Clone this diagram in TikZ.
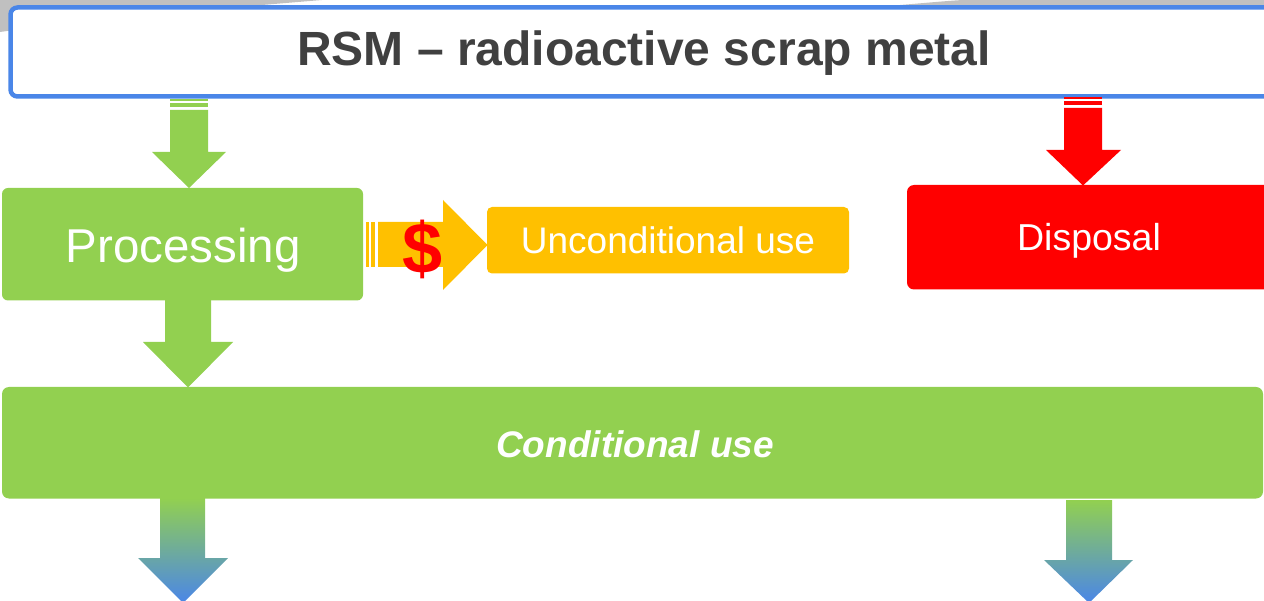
\documentclass[tikz,border=0pt]{standalone}
\usepackage{fontspec}
\setmainfont{Liberation Sans}
\definecolor{cgreen}{RGB}{146,208,80}
\definecolor{corange}{RGB}{255,192,0}
\definecolor{cred}{RGB}{255,0,0}
\definecolor{cblue}{RGB}{74,134,232}
\definecolor{cgray}{RGB}{192,192,192}
\definecolor{ctext}{RGB}{64,64,64}
\begin{document}
\begin{tikzpicture}[x=1pt,y=-1pt,
  box/.style={rectangle, rounded corners=6pt, inner sep=0pt, draw=none},
  lbl/.style={anchor=base, text=white, inner sep=0pt}]
\useasboundingbox (0,0) rectangle (1264,601);
\begin{scope}
\clip (0,0) rectangle (1264,601);
% slide background remnants
\fill[cgray] (0,0) -- (322,0) .. controls (200,10) and (70,22) .. (0,32) -- cycle;
\fill[cgray] (900,5) .. controls (925,3) and (945,1) .. (963,0) -- (1264,0) -- (1264,6) -- cycle;

% title
\node[box, draw=cblue, line width=4.5pt, rounded corners=7pt, fill=white,
      minimum width=1279.5pt, minimum height=89pt] (title) at (650.25,52) {};
\node[anchor=base, text=ctext, inner sep=0pt,
      font=\fontsize{48}{57}\selectfont\bfseries] (titletext) at (644,66) {RSM – radioactive scrap metal};

% boxes
\node[box, fill=cgreen, minimum width=361pt, minimum height=112.5pt] (proc) at (182.5,244.25) {};
\node[lbl, font=\fontsize{47.5}{57}\selectfont] (proctext) at (183,263) {Processing};

\node[box, fill=corange, rounded corners=5pt, minimum width=362pt, minimum height=66.5pt] (uncond) at (668,240.25) {};
\node[lbl, font=\fontsize{37}{44}\selectfont] (uncondtext) at (668,254) {Unconditional use};

\node[box, fill=cred, rounded corners=7pt, minimum width=383pt, minimum height=104.5pt] (disp) at (1098.5,237.25) {};
\node[lbl, font=\fontsize{37.5}{45}\selectfont] (disptext) at (1089,251) {Disposal};

\node[box, fill=cgreen, rounded corners=7pt, minimum width=1261pt, minimum height=111.5pt] (cond) at (632.5,442.75) {};
\node[lbl, font=\fontsize{37}{44}\selectfont\bfseries\itshape] (condtext) at (635,457) {Conditional use};

% arrow title -> processing
\fill[cgreen] (170,99) rectangle (208,101.5);
\fill[cgreen] (170,103.5) rectangle (208,107.5);
\fill[cgreen] (170,110) -- (208,110) -- (208,152) -- (226,152) -- (189,188) -- (152,152) -- (170,152) -- cycle;

% arrow title -> disposal
\fill[cred] (1064,97) rectangle (1102,99.5);
\fill[cred] (1064,101.5) rectangle (1102,105.5);
\fill[cred] (1064,108) -- (1102,108) -- (1102,150) -- (1121,150) -- (1083,185.5) -- (1046,150) -- (1064,150) -- cycle;

% arrow processing -> unconditional ($)
\fill[corange] (366,222) rectangle (369,267);
\fill[corange] (371,222) rectangle (375,267);
\fill[corange] (378,222) -- (443,222) -- (443,200) -- (487.5,245) -- (443,290) -- (443,267) -- (378,267) -- cycle;
\node[anchor=base, text=cred, inner sep=0pt, font=\fontsize{72}{84}\selectfont\bfseries] (dollar) at (423,274) {\$};

% arrow processing -> conditional
\fill[cgreen] (165,300) -- (211,300) -- (211,342) -- (233,342) -- (188,387.5) -- (143,342) -- (165,342) -- cycle;

% bottom gradient arrows
\shade[top color=cgreen, bottom color=cblue] (160,498) -- (205,498) -- (205,558) -- (228,558) -- (183,603) -- (138,558) -- (160,558) -- cycle;
\shade[top color=cgreen, bottom color=cblue] (1066,500) -- (1112,500) -- (1112,560) -- (1133,560) -- (1089,603) -- (1044,560) -- (1066,560) -- cycle;
\end{scope}
\end{tikzpicture}
\end{document}
